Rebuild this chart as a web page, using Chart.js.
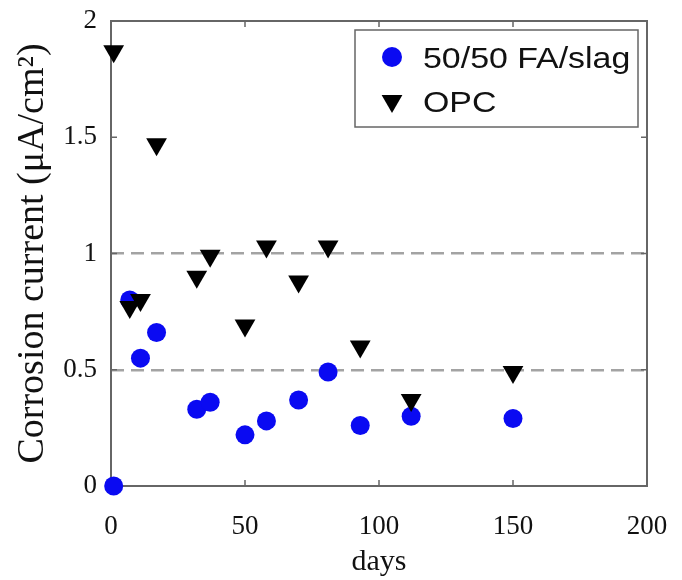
<!DOCTYPE html>
<html>
<head>
<meta charset="utf-8">
<script src="https://cdn.jsdelivr.net/npm/chart.js@4"></script>
<style>
  html, body { margin: 0; padding: 0; background: #fff; }
</style>
</head>
<body>
<canvas id="corrosionChart" width="682" height="580"></canvas>
<script>
const blendDays = [1, 7, 11, 17, 32, 37, 50, 58, 70, 81, 93, 112, 150];
const blendCurrent = [0, 0.80, 0.55, 0.66, 0.33, 0.36, 0.22, 0.28, 0.37, 0.49, 0.26, 0.30, 0.29];
const opcDays = [1, 7, 11, 17, 32, 37, 50, 58, 70, 81, 93, 112, 150];
const opcCurrent = [1.87, 0.77, 0.80, 1.47, 0.90, 0.99, 0.69, 1.03, 0.88, 1.03, 0.60, 0.37, 0.49];
const xTicks = [0, 50, 100, 150, 200];
const yTicks = [0, 0.5, 1, 1.5, 2];
const dashedLevels = [0.5, 1];

const SERIF = "'Liberation Serif', 'Times New Roman', serif";
const SANS = "'Liberation Sans', Arial, sans-serif";
const FRAME = '#666';

function toPoints(xs, ys) {
    return xs.map((x, i) => ({ x: x, y: ys[i] }));
}

function triangle(ctx, x, y, r) {
    // downward pointing, same geometry as chart.js 'triangle' rotated 180
    ctx.beginPath();
    ctx.moveTo(x, y + r);
    ctx.lineTo(x - r * Math.sin(Math.PI / 3), y - r / 2);
    ctx.lineTo(x + r * Math.sin(Math.PI / 3), y - r / 2);
    ctx.closePath();
    ctx.fill();
}

// box round the plot with inward tick marks
const framePlugin = {
    id: 'frame',
    beforeDatasetsDraw(chart) {
        const { ctx, chartArea: a, scales } = chart;
        ctx.save();
        ctx.strokeStyle = FRAME;
        ctx.lineWidth = 2;
        ctx.strokeRect(a.left, a.top, a.right - a.left, a.bottom - a.top);
        ctx.lineWidth = 1.5;
        ctx.beginPath();
        xTicks.slice(1, -1).forEach(v => {
            const px = scales.x.getPixelForValue(v);
            ctx.moveTo(px, a.bottom); ctx.lineTo(px, a.bottom - 6);
            ctx.moveTo(px, a.top); ctx.lineTo(px, a.top + 6);
        });
        yTicks.slice(1, -1).forEach(v => {
            const py = scales.y.getPixelForValue(v);
            ctx.moveTo(a.left, py); ctx.lineTo(a.left + 6, py);
            ctx.moveTo(a.right, py); ctx.lineTo(a.right - 6, py);
        });
        ctx.stroke();
        ctx.restore();
    }
};

// legend drawn inside the plot, top right
const boxLegend = {
    id: 'boxLegend',
    afterDraw(chart) {
        const { ctx, chartArea: a } = chart;
        const w = 283, h = 97;
        const bx = a.right - 9 - w, by = a.top + 9;
        ctx.save();
        ctx.fillStyle = '#fff';
        ctx.fillRect(bx, by, w, h);
        ctx.strokeStyle = FRAME;
        ctx.lineWidth = 1.5;
        ctx.strokeRect(bx, by, w, h);

        const rows = [by + 27, by + 71];
        chart.data.datasets.forEach((ds, i) => {
            const mx = bx + 37, my = rows[i];
            ctx.fillStyle = ds.backgroundColor;
            if (ds.pointStyle === 'triangle') {
                triangle(ctx, mx, my, 12);
            } else {
                ctx.beginPath();
                ctx.arc(mx, my, 10, 0, Math.PI * 2);
                ctx.fill();
            }
            ctx.save();
            ctx.translate(bx + 68, my + 11);
            ctx.scale(1.13, 1);
            ctx.fillStyle = '#111';
            ctx.font = '30px ' + SANS;
            ctx.textBaseline = 'alphabetic';
            ctx.fillText(ds.label, 0, 0);
            ctx.restore();
        });
        ctx.restore();
    }
};

new Chart(document.getElementById('corrosionChart').getContext('2d'), {
    type: 'scatter',
    data: {
        datasets: [
            {
                label: '50/50 FA/slag',
                data: toPoints(blendDays, blendCurrent),
                pointStyle: 'circle',
                pointRadius: 9.5,
                pointHoverRadius: 9.5,
                backgroundColor: '#0a0af2',
                borderWidth: 0,
                clip: false,
                order: 2,
            },
            {
                label: 'OPC',
                data: toPoints(opcDays, opcCurrent),
                pointStyle: 'triangle',
                pointRotation: 180,
                pointRadius: 12,
                pointHoverRadius: 12,
                backgroundColor: '#000',
                borderWidth: 0,
                clip: false,
                order: 1,
            },
        ],
    },
    options: {
        responsive: false,
        animation: false,
        devicePixelRatio: 1,
        layout: { padding: { top: 21, right: 35, bottom: 0, left: 0 } },
        plugins: {
            legend: { display: false },
            tooltip: { enabled: false },
        },
        scales: {
            x: {
                type: 'linear',
                min: 0,
                max: 200,
                afterBuildTicks: s => { s.ticks = xTicks.map(v => ({ value: v })); },
                afterFit: s => {
                    s.height = 94;
                    s.paddingLeft = 0;
                    s.paddingRight = 0;
                },
                ticks: {
                    color: '#111',
                    font: { family: SERIF, size: 27 },
                    padding: 17,
                    maxRotation: 0,
                    callback: v => String(v),
                },
                grid: { display: false },
                border: { display: false },
                title: {
                    display: true,
                    text: 'days',
                    color: '#111',
                    font: { family: SERIF, size: 30 },
                    padding: { top: 0, bottom: 0 },
                },
            },
            y: {
                type: 'linear',
                min: 0,
                max: 2,
                afterBuildTicks: s => { s.ticks = yTicks.map(v => ({ value: v })); },
                afterFit: s => {
                    s.width = 111;
                    s.paddingTop = 0;
                    s.paddingBottom = 0;
                },
                ticks: {
                    color: '#111',
                    font: { family: SERIF, size: 27 },
                    padding: 14,
                    callback: v => String(v),
                },
                grid: {
                    color: c => dashedLevels.includes(c.tick.value) ? '#a3a3a3' : 'rgba(0,0,0,0)',
                    lineWidth: 2.5,
                    drawTicks: false,
                },
                border: { display: false, dash: [13, 7] },
                title: {
                    display: true,
                    text: 'Corrosion current (μA/cm²)',
                    color: '#111',
                    font: { family: SERIF, size: 38 },
                    padding: { top: 10, bottom: 0 },
                },
            },
        },
    },
    plugins: [framePlugin, boxLegend],
});
</script>
</body>
</html>
